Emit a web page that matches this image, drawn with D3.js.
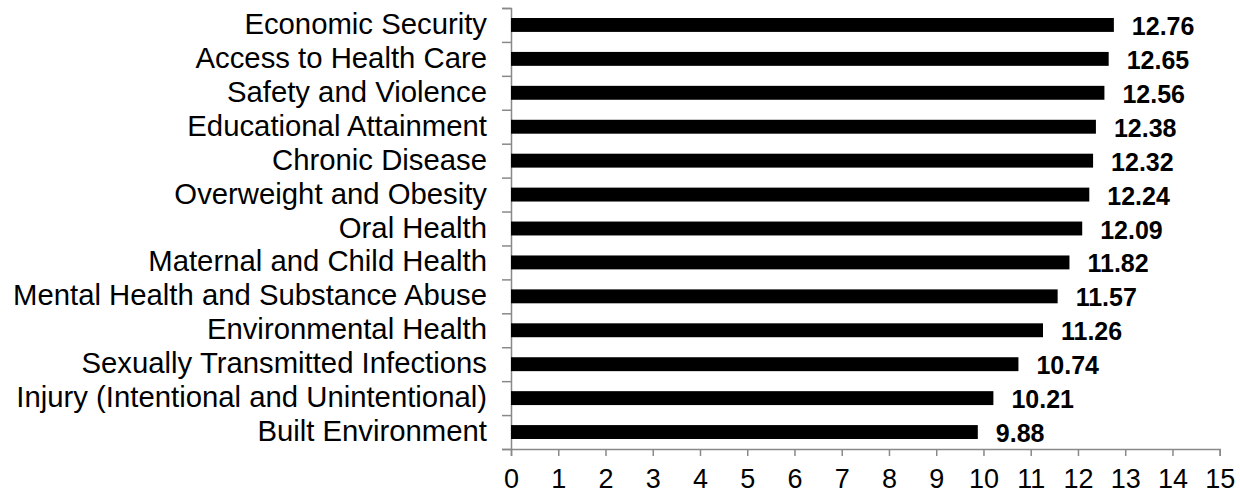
<!DOCTYPE html>
<html>
<head>
<meta charset="utf-8">
<script src="https://cdn.jsdelivr.net/npm/d3@7"></script>
<style>
  body { margin: 0; background: #fff; }
  text { font-family: Arial, "Liberation Sans", sans-serif; fill: #000; }
  .axis path, .axis line { stroke: #898989; stroke-width: 1.5; }
</style>
</head>
<body>
<script>
// categories top to bottom, with their scores
var categories = ["Economic Security", "Access to Health Care", "Safety and Violence",
  "Educational Attainment", "Chronic Disease", "Overweight and Obesity", "Oral Health",
  "Maternal and Child Health", "Mental Health and Substance Abuse", "Environmental Health",
  "Sexually Transmitted Infections", "Injury (Intentional and Unintentional)", "Built Environment"];
var scores = [12.76, 12.65, 12.56, 12.38, 12.32, 12.24, 12.09, 11.82, 11.57, 11.26, 10.74, 10.21, 9.88];
var xTicks = [0, 1, 2, 3, 4, 5, 6, 7, 8, 9, 10, 11, 12, 13, 14, 15];

var data = categories.map(function(c, i) { return {cat: c, val: scores[i]}; });

var margin = {top: 8, right: 20, bottom: 44, left: 511},
    width = 1240 - margin.left - margin.right,
    height = 493 - margin.top - margin.bottom;

var svg = d3.select("body").append("svg")
    .attr("width", 1240)
    .attr("height", 493)
  .append("g")
    .attr("transform", "translate(" + margin.left + "," + margin.top + ")");

var x = d3.scaleLinear().domain([0, 15]).range([0, 708.7]);
var y = d3.scaleBand().domain(categories).range([0, height])
    .paddingInner(0.59).paddingOuter(0.295);
// boundaries between bands, for the y tick marks
var yEdge = d3.scaleLinear().domain([0, categories.length]).range([0, height]);

// x axis
svg.append("g")
    .attr("class", "axis")
    .attr("transform", "translate(0," + height + ")")
    .call(d3.axisBottom(x).tickValues(xTicks).tickSizeInner(7).tickSizeOuter(7).tickPadding(13))
    .call(function(g) {
      g.selectAll("text").style("font-size", "27px").attr("fill", "#000");
    });

// y axis (ticks only at band edges)
svg.append("g")
    .attr("class", "axis")
    .call(d3.axisLeft(yEdge).tickValues(d3.range(categories.length + 1)).tickFormat("").tickSize(9));

// category labels
svg.selectAll(".cat")
    .data(data)
  .enter().append("text")
    .attr("class", "cat")
    .attr("x", -24)
    .attr("y", function(d) { return y(d.cat) + y.bandwidth() / 2 + 9; })
    .attr("text-anchor", "end")
    .style("font-size", "29.3px")
    .text(function(d) { return d.cat; });

// bars
svg.selectAll(".bar")
    .data(data)
  .enter().append("rect")
    .attr("class", "bar")
    .attr("x", 0)
    .attr("y", function(d) { return y(d.cat); })
    .attr("height", y.bandwidth())
    .attr("width", function(d) { return x(d.val); })
    .attr("fill", "#000");

// value labels
svg.selectAll(".val")
    .data(data)
  .enter().append("text")
    .attr("class", "val")
    .attr("x", function(d) { return x(d.val) + 18; })
    .attr("y", function(d) { return y(d.cat) + y.bandwidth() / 2 + 10; })
    .style("font-size", "25px")
    .style("font-weight", "bold")
    .text(function(d) { return d.val.toFixed(2); });
</script>
</body>
</html>
